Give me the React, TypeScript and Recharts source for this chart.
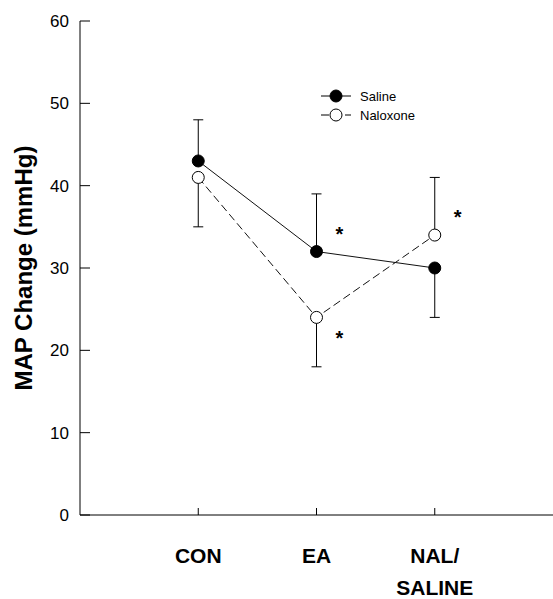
import { LineChart, Line, XAxis, YAxis, ErrorBar, LabelList, Label, Legend } from 'recharts'

const categories = ['CON', 'EA', 'NAL/\nSALINE']
const positions = [1, 2, 3]
const seriesNames = ['Saline', 'Naloxone']
const saline = [43, 32, 30]
const naloxone = [41, 24, 34]
// [below, above] the mean
const salineErr = [[0, 5], [0, 7], [6, 0]]
const naloxoneErr = [[6, 0], [6, 0], [0, 7]]
const salineSig = ['', '*', '']
const naloxoneSig = ['', '*', '*']
const yTicks = [0, 10, 20, 30, 40, 50, 60]

const data = categories.map((name, i) => ({
  x: positions[i],
  name,
  saline: saline[i],
  naloxone: naloxone[i],
  salineErr: salineErr[i],
  naloxoneErr: naloxoneErr[i],
  salineSig: salineSig[i],
  naloxoneSig: naloxoneSig[i],
}))

const font = '"Liberation Sans", Arial, sans-serif'

function XTick(props: any) {
  const { x, y, payload } = props
  const idx = positions.indexOf(payload.value)
  const lines = (categories[idx] ?? '').split('\n')
  return (
    <g>
      <line x1={x} x2={x} y1={y} y2={y - 7} stroke="#000" />
      {lines.map((l, i) => (
        <text key={i} x={x} y={y + 48 + i * 32} textAnchor="middle" fontSize={21} fontWeight="bold" fontFamily={font} fill="#000">
          {l}
        </text>
      ))}
    </g>
  )
}

function YTick(props: any) {
  const { x, y, payload } = props
  return (
    <g>
      <line x1={x} x2={x + 10} y1={y} y2={y} stroke="#000" />
      <text x={x - 11} y={y} dy={6} textAnchor="end" fontSize={17} fontFamily={font} fill="#000">
        {payload.value}
      </text>
    </g>
  )
}

function Star(props: any, below: boolean) {
  const { x, y, value } = props
  if (!value) return null
  return (
    <text x={x + 23} y={below ? y + 28 : y - 11} textAnchor="middle" fontSize={20} fontWeight="bold" fontFamily={font} fill="#000">
      {value}
    </text>
  )
}

function renderLegend(props: any) {
  const items = (props.payload ?? [])
    .filter((e: any) => e.type !== 'none' && seriesNames.includes(e.value))
    .sort((a: any, b: any) => seriesNames.indexOf(a.value) - seriesNames.indexOf(b.value))
  return (
    <svg width={130} height={45}>
      {items.map((entry: any, i: number) => {
        const cy = 10 + i * 19
        const p = entry.payload ?? {}
        return (
          <g key={i}>
            <line x1={0} x2={30} y1={cy} y2={cy} stroke="#000" strokeDasharray={p.strokeDasharray} />
            <circle cx={15} cy={cy} r={6} fill={p.dot?.fill ?? '#000'} stroke="#000" />
            <text x={39} y={cy + 5} fontSize={13} fontFamily={font} fill="#000">
              {entry.value}
            </text>
          </g>
        )
      })}
    </svg>
  )
}

export default function App() {
  return (
    <div style={{ position: 'absolute', left: 0, top: 0 }}>
      <LineChart width={553} height={599} data={data} margin={{ top: 21, right: 0, bottom: 0, left: 0 }}>
        <XAxis
          dataKey="x"
          type="number"
          domain={[0, 4]}
          ticks={positions}
          interval={0}
          height={84}
          tickLine={false}
          tickSize={0}
          tickMargin={0}
          tick={<XTick />}
          axisLine={{ stroke: '#000' }}
        />
        <YAxis
          domain={[0, 60]}
          ticks={yTicks}
          width={80}
          tickLine={false}
          tickSize={0}
          tickMargin={0}
          tick={<YTick />}
          axisLine={{ stroke: '#000' }}
        >
          <Label
            content={(p: any) => {
              const vb = p.viewBox ?? {}
              const cy = (vb.y ?? 0) + (vb.height ?? 0) / 2
              return (
                <text x={32} y={cy} transform={`rotate(-90, 32, ${cy})`} textAnchor="middle" fontSize={24} fontWeight="bold" fontFamily={font} fill="#000">
                  MAP Change (mmHg)
                </text>
              )
            }}
          />
        </YAxis>
        <Legend
          layout="horizontal"
          verticalAlign="middle"
          align="center"
          wrapperStyle={{ left: 321, top: 86, width: 130, height: 45 }}
          content={renderLegend}
        />
        {/* error bars first so the markers sit on top of them */}
        <Line name="salineErr" dataKey="saline" stroke="none" dot={false} activeDot={false} legendType="none" isAnimationActive={false}>
          <ErrorBar dataKey="salineErr" direction="y" width={5} stroke="#000" strokeWidth={1} isAnimationActive={false} />
        </Line>
        <Line name="naloxoneErr" dataKey="naloxone" stroke="none" dot={false} activeDot={false} legendType="none" isAnimationActive={false}>
          <ErrorBar dataKey="naloxoneErr" direction="y" width={5} stroke="#000" strokeWidth={1} isAnimationActive={false} />
        </Line>
        <Line
          name="Saline"
          dataKey="saline"
          stroke="#111"
          strokeWidth={1}
          dot={{ r: 6, fill: '#000', stroke: '#000', strokeWidth: 1 }}
          isAnimationActive={false}
        >
          <LabelList dataKey="salineSig" content={(p: any) => Star(p, false)} />
        </Line>
        <Line
          name="Naloxone"
          dataKey="naloxone"
          stroke="#111"
          strokeWidth={1}
          strokeDasharray="8 4"
          dot={{ r: 6, fill: '#fff', stroke: '#000', strokeWidth: 1, strokeDasharray: 'none' }}
          isAnimationActive={false}
        >
          <LabelList
            dataKey="naloxoneSig"
            content={(p: any) => Star(p, data[p.index]?.naloxone < data[p.index]?.saline)}
          />
        </Line>
      </LineChart>
    </div>
  )
}
